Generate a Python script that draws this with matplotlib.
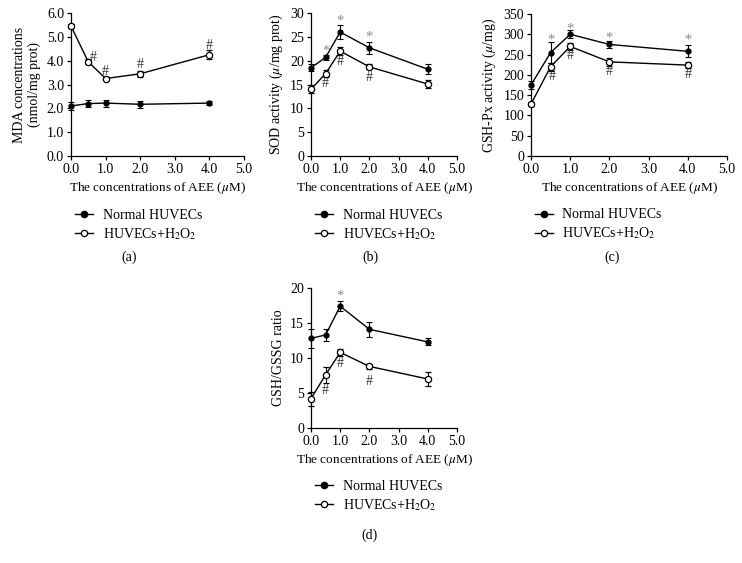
import matplotlib
matplotlib.use("Agg")
import matplotlib.pyplot as plt
from matplotlib.lines import Line2D

plt.rcParams['font.family'] = ['Liberation Serif', 'DejaVu Serif']
plt.rcParams['mathtext.fontset'] = 'stix'

conc = [0.0, 0.5, 1.0, 2.0, 4.0]

# (a) MDA
mda_normal = [2.10, 2.20, 2.22, 2.17, 2.22]
mda_normal_err = [0.15, 0.15, 0.15, 0.15, 0.07]
mda_h2o2 = [5.45, 3.95, 3.25, 3.45, 4.25]
mda_h2o2_err = [0.10, 0.10, 0.05, 0.12, 0.20]

# (b) SOD
sod_normal = [18.5, 20.7, 26.0, 22.7, 18.2]
sod_normal_err = [0.7, 0.5, 1.5, 1.2, 1.0]
sod_h2o2 = [14.0, 17.3, 22.0, 18.7, 15.1]
sod_h2o2_err = [0.8, 0.8, 0.8, 0.5, 0.8]

# (c) GSH-Px
gpx_normal = [175, 255, 300, 275, 258]
gpx_normal_err = [10, 25, 10, 8, 15]
gpx_h2o2 = [128, 220, 270, 232, 224]
gpx_h2o2_err = [5, 10, 8, 10, 7]

# (d) GSH/GSSG
ratio_normal = [12.8, 13.3, 17.4, 14.1, 12.3]
ratio_normal_err = [1.4, 0.9, 0.7, 1.1, 0.5]
ratio_h2o2 = [4.2, 7.6, 10.8, 8.8, 7.0]
ratio_h2o2_err = [1.0, 1.1, 0.5, 0.4, 1.0]

# significance marks: (x, y)
mda_hash = [(0.65, 4.15), (1.0, 3.55), (2.0, 3.85), (4.0, 4.65)]
sod_star = [(0.5, 22.0), (1.0, 28.3), (2.0, 25.0)]
sod_hash = [(0.5, 15.2), (1.0, 19.8), (2.0, 16.4)]
gpx_star = [(0.5, 285), (1.0, 312), (2.0, 290), (4.0, 285)]
gpx_hash = [(0.55, 197), (1.0, 248), (2.0, 208), (4.0, 200)]
ratio_star = [(1.0, 18.9)]
ratio_hash = [(0.5, 5.3), (1.0, 9.2), (2.0, 6.7)]

xticks = [0, 1, 2, 3, 4, 5]
xticklabels = ['0.0', '1.0', '2.0', '3.0', '4.0', '5.0']

W, H = 742, 563
fig = plt.figure(figsize=(W / 100, H / 100), dpi=100)


def px_axes(left, top, right, bottom):
    return fig.add_axes([left / W, 1 - bottom / H, (right - left) / W, (bottom - top) / H])


def draw_panel(ax, normal, nerr, h2o2, herr, ymax, ystep, yfmt, ylabel, stars, hashes):
    ax.errorbar(conc, normal, yerr=nerr, color='black', lw=1, marker='o', ms=3.5,
                mfc='black', mec='black', capsize=2, elinewidth=0.8, capthick=0.8,
                clip_on=False, zorder=3)
    ax.errorbar(conc, h2o2, yerr=herr, color='black', lw=1, marker='o', ms=4.5,
                mfc='white', mec='black', mew=0.9, capsize=2, elinewidth=0.8, capthick=0.8,
                clip_on=False, zorder=3)
    for x, y in stars:
        ax.text(x, y, '*', color='#8a8a8a', fontsize=10.5, ha='center', va='center')
    for x, y in hashes:
        ax.text(x, y, '#', color='#333333', fontsize=10, ha='center', va='center')
    ax.set_xlim(0, 5)
    ax.set_ylim(0, ymax)
    ax.set_xticks(xticks)
    ax.set_xticklabels(xticklabels)
    yt = [i * ystep for i in range(int(round(ymax / ystep)) + 1)]
    ax.set_yticks(yt)
    ax.set_yticklabels([yfmt.format(v) for v in yt])
    for s in ['top', 'right']:
        ax.spines[s].set_visible(False)
    for s in ['left', 'bottom']:
        ax.spines[s].set_linewidth(0.9)
    ax.tick_params(direction='out', length=3, width=0.9, labelsize=10, pad=2)
    ax.set_xlabel('The concentrations of AEE ($\\mu$M)', fontsize=9.5, labelpad=3)
    ax.set_ylabel(ylabel, fontsize=10, labelpad=4)
    handles = [
        Line2D([], [], color='black', lw=1, marker='o', ms=4.5, mfc='black', mec='black'),
        Line2D([], [], color='black', lw=1, marker='o', ms=4.5, mfc='white', mec='black', mew=0.9),
    ]
    ax.legend(handles, ['Normal HUVECs', 'HUVECs+H$_2$O$_2$'], loc='upper left',
              bbox_to_anchor=(-0.01, -0.33), frameon=False, fontsize=10,
              handlelength=1.3, handletextpad=0.7, labelspacing=0.3, borderaxespad=0)


ax_a = px_axes(71, 13, 244, 156)
draw_panel(ax_a, mda_normal, mda_normal_err, mda_h2o2, mda_h2o2_err, 6.0, 1.0, '{:.1f}',
           'MDA concentrations\n(nmol/mg prot)', [], mda_hash)

ax_b = px_axes(311, 13, 457, 156)
draw_panel(ax_b, sod_normal, sod_normal_err, sod_h2o2, sod_h2o2_err, 30, 5, '{:.0f}',
           'SOD activity ($\\mu$/mg prot)', sod_star, sod_hash)

ax_c = px_axes(531, 14, 727, 156)
draw_panel(ax_c, gpx_normal, gpx_normal_err, gpx_h2o2, gpx_h2o2_err, 350, 50, '{:.0f}',
           'GSH-Px activity ($\\mu$/mg)', gpx_star, gpx_hash)

ax_d = px_axes(311, 288, 457, 428)
draw_panel(ax_d, ratio_normal, ratio_normal_err, ratio_h2o2, ratio_h2o2_err, 20, 5, '{:.0f}',
           'GSH/GSSG ratio', ratio_star, ratio_hash)

for label, x, y in [('(a)', 129, 257), ('(b)', 370, 257), ('(c)', 612, 257), ('(d)', 370, 535)]:
    fig.text(x / W, 1 - y / H, label, fontsize=10, ha='center', va='center')

fig.savefig('out.png', dpi=100)
